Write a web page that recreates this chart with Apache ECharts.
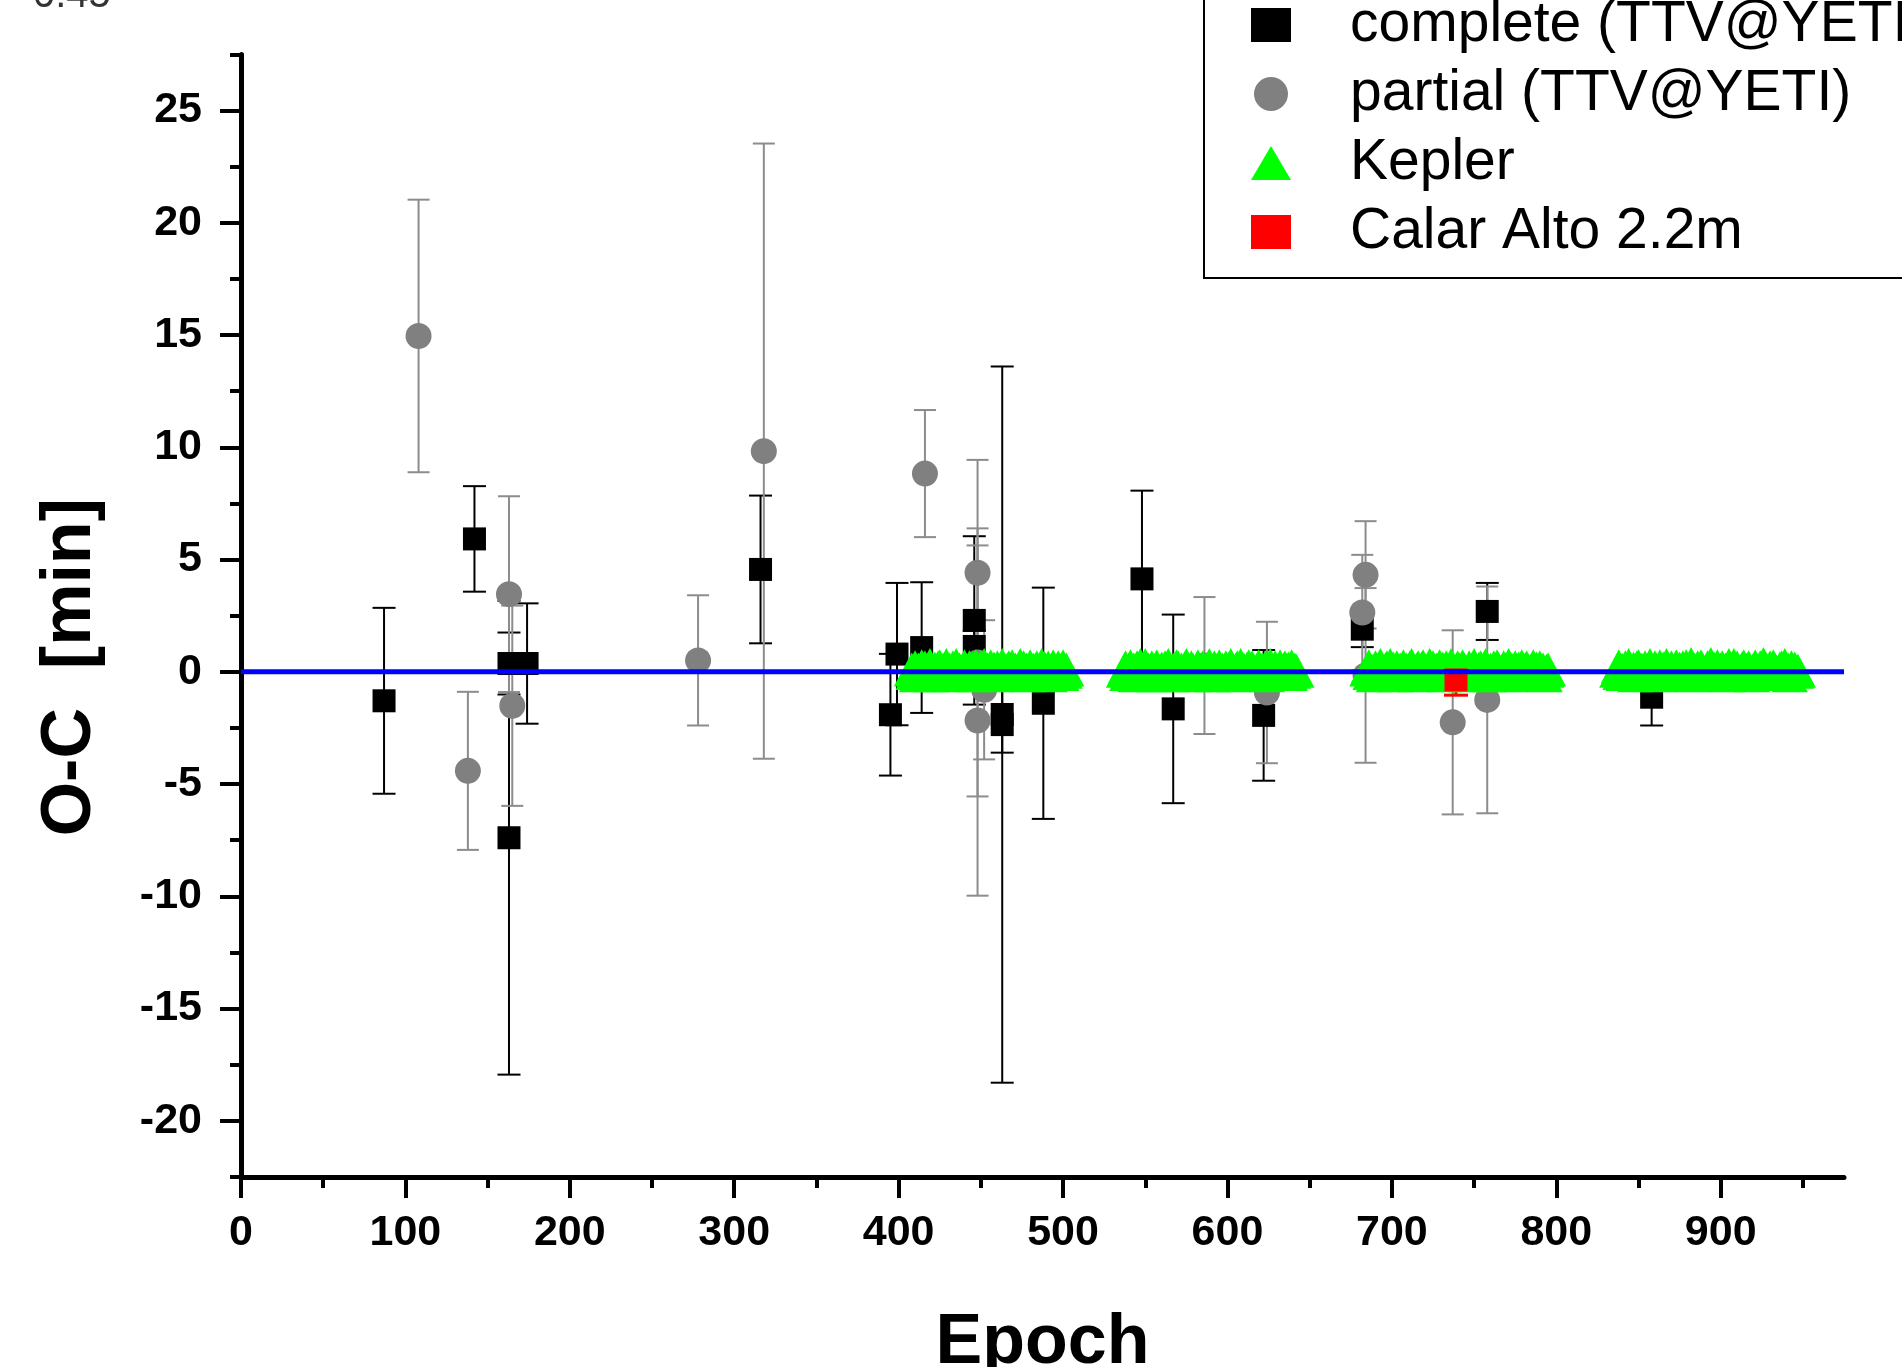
<!DOCTYPE html>
<html>
<head>
<meta charset="utf-8">
<title>O-C</title>
<script src="https://cdn.jsdelivr.net/npm/echarts@6/dist/echarts.min.js"></script>
<style>
  html, body { margin: 0; padding: 0; background: #fff; }
  #main { width: 1902px; height: 1367px; }
</style>
</head>
<body>
<div id="main"></div>
<script>
// complete transits (TTV@YETI)
var completeEpoch = [87, 142, 163, 163, 174, 316, 395, 399, 414, 446, 446, 463, 463, 488, 548, 567, 622, 682, 758, 858];
var completeOC = [-1.29, 5.92, 0.37, -7.39, 0.37, 4.56, -1.91, 0.79, 1.08, 2.29, 1.13, -1.9, -2.35, -1.4, 4.14, -1.65, -1.94, 1.9, 2.69, -1.13];
var completeErr = [4.14, 2.35, 1.38, 10.55, 2.68, 3.29, 2.71, 3.17, 2.91, 3.75, 0.7, 1.7, 15.95, 5.15, 3.93, 4.2, 2.91, 0.8, 1.27, 1.26];

// partial transits (TTV@YETI)
var partialEpoch = [108, 138, 163, 165, 278, 318, 416, 448, 448, 448, 452, 586, 624, 684, 682, 684, 737, 758];
var partialOC = [14.96, -4.41, 3.46, -1.51, 0.51, 9.83, 8.83, 4.41, 0.42, -2.17, -0.8, 0.28, -0.92, 4.32, 2.64, -0.16, -2.25, -1.25];
var partialErr = [6.07, 3.52, 4.36, 4.46, 2.9, 13.7, 2.83, 5.03, 5.97, 7.8, 3.1, 3.05, 3.15, 2.39, 2.57, 3.89, 4.1, 5.05];

// Calar Alto 2.2m
var caEpoch = [739];
var caOC = [-0.36];
var caErr = [0.68];

// Kepler: consecutive epochs, one block per observing run
var keplerStart = [408, 537, 685, 837];
var keplerOC = [
  [0.1,-0.05,0.2,-0.15,0.1,0.05,0.25,-0.1,0.2,0,0.1,0.3,-0.15,0.05,0.15,-0.05,0.2,0.25,-0.1,0.1,
   0.05,0.3,-0.05,0.1,-0.15,0.2,0.05,0.3,0,0.1,0.05,-0.1,0.25,0.1,-0.05,0.2,0.05,0.15,-0.15,0.25,
   0,0.1,0.2,0.05,0.3,-0.1,0.1,-0.05,0.25,0.05,0.15,-0.15,0.2,0,0.1,0.3,0.05,-0.1,0.1,0.2,
   -0.05,0.25,0.05,0.1,-0.1,0.15,0.3,0,0.2,0.05,0.1,-0.15,0.25,0,0.1,0.05,0.2,-0.1,0.1,0.3,
   0,0.15,0.05,0.2,-0.15,0.1,0.25,-0.05,0.05,0.2,0.1,-0.1,0.25,0,0.1],
  [0.05,0.2,-0.1,0.1,0.25,-0.05,0.1,-0.15,0.2,0.05,0.3,0.1,-0.1,0.3,0,0.1,0.05,0.2,-0.15,0.1,
   0.25,-0.05,0.05,0.15,-0.1,0.2,0.1,0.3,0,-0.15,0.1,0.05,0.25,0.2,-0.05,0.1,-0.1,0.15,0.3,0.05,
   0,0.2,0.1,-0.15,0.05,0.25,-0.05,0.1,0.2,-0.1,0.1,0,0.3,0.05,-0.15,0.2,0.1,-0.05,0.25,0.05,
   0.1,-0.1,0.2,0,0.15,0.3,0.05,-0.15,0.1,0.2,-0.05,0.3,0.05,0.1,-0.1,0.15,0.25,0,0.2,0.05,
   -0.1,0.1,0.25,-0.05,0.1,0.05,0.2,-0.15,0.1,0.3,0,0.05,0.2,0.1,-0.1,0.25,-0.05,0.1,0.2,0.05,
   0.15,-0.1,0.25,0,0.1,0.05],
  [0.1,0.25,-0.05,0.05,-0.15,0.2,0.1,0,0.3,0.05,-0.1,0.1,0.2,-0.05,0.3,0.05,0.15,-0.15,0.2,0,
   0.1,0.05,0.25,-0.1,0.1,-0.05,0.2,0.3,0.05,-0.15,0.1,0.2,0,0.15,0.25,-0.1,0.05,0.1,0.3,-0.05,
   0.2,-0.1,0.1,0.05,0.25,0,0.15,-0.15,0.2,0.05,0.1,0.3,-0.05,0.05,-0.1,0.2,0.1,0,0.25,0.1,
   -0.15,0.05,0.2,-0.05,0.1,0.3,0.05,-0.1,0.15,0.2,0,0.1,0.3,0.05,-0.15,0.1,-0.05,0.2,0.05,0.25,
   0.1,-0.1,0,0.2,0.1,0.05,0.3,-0.15,0.1,-0.05,0.2,0.05,0.15,-0.1,0.25,0,0.1,0.2,0.05,-0.05,
   0.1,0.25,-0.1,0.15,0.05,0.2,-0.05,0.1,-0.15,0.05,0.1],
  [0.05,0.25,-0.05,0.1,-0.1,0.2,0.1,0.3,0,0.05,0.15,-0.15,0.2,0.25,-0.05,0.1,0.05,0.2,-0.1,0.1,
   0.3,0.05,-0.05,0.2,0.1,-0.15,0.25,0.05,0.15,0,0.3,0.1,-0.1,0.2,0.05,0.1,0.25,-0.05,0.15,-0.1,
   0.2,0.05,0.25,0,0.1,0.35,-0.15,0.1,0.05,0.2,-0.05,0.25,0.1,-0.1,0.05,0.2,0.1,0.35,0,0.15,
   -0.1,0.25,0.05,0.1,0.2,-0.05,0.1,-0.15,0.3,0.05,0.1,0.3,0,0.2,0.05,-0.1,0.15,0.25,-0.05,0.1,
   0.2,0.05,-0.15,0.1,0.25,0,0.05,0.2,0.1,0.35,-0.1,0.1,-0.05,0.2,0.05,0.25,0.1,0,-0.1,0.15,
   0.2,0.05,0.3,-0.05,0.1,-0.15,0.2,0.05,0.15,0,0.05]
];

// zero line (linear ephemeris)
var fitEpoch = [0, 975];
var fitOC = [0, 0];

// axis ticks
var xMajor = [0, 100, 200, 300, 400, 500, 600, 700, 800, 900];
var xMinor = [50, 150, 250, 350, 450, 550, 650, 750, 850, 950];
var yMajor = [-20, -15, -10, -5, 0, 5, 10, 15, 20, 25];
var yMinor = [-22.5, -17.5, -12.5, -7.5, -2.5, 2.5, 7.5, 12.5, 17.5, 22.5, 27.5];

var FONT = "'Liberation Sans', Arial, sans-serif";

function points(ep, oc) {
  return ep.map(function (e, i) { return [e, oc[i]]; });
}
function bars(ep, oc, err) {
  return ep.map(function (e, i) { return [e, oc[i] - err[i], oc[i] + err[i]]; });
}
var keplerData = [];
keplerOC.forEach(function (block, b) {
  block.forEach(function (v, i) { keplerData.push([keplerStart[b] + i, v]); });
});

function errorBar(color, capHalf, width) {
  return function (params, api) {
    var x = api.value(0);
    var top = api.coord([x, api.value(2)]);
    var bot = api.coord([x, api.value(1)]);
    var st = { stroke: color, lineWidth: width, fill: null };
    return {
      type: 'group',
      children: [
        { type: 'line', shape: { x1: top[0] - capHalf, y1: top[1], x2: top[0] + capHalf, y2: top[1] }, style: st },
        { type: 'line', shape: { x1: top[0], y1: top[1], x2: bot[0], y2: bot[1] }, style: st },
        { type: 'line', shape: { x1: bot[0] - capHalf, y1: bot[1], x2: bot[0] + capHalf, y2: bot[1] }, style: st }
      ]
    };
  };
}

var chart = echarts.init(document.getElementById('main'));

chart.setOption({
  backgroundColor: '#fff',
  animation: false,
  grid: { left: 241, right: 58, top: 54.4, bottom: 190, outerBoundsMode: 'none', containLabel: false },
  legend: {
    data: [
      { name: 'complete (TTV@YETI)', icon: 'rect' },
      { name: 'partial (TTV@YETI)', icon: 'circle' },
      { name: 'Kepler', icon: 'path://M0,34L20,0L40,34Z' },
      { name: 'Calar Alto 2.2m', icon: 'rect' }
    ],
    orient: 'vertical',
    left: 1204,
    top: -21,
    itemWidth: 40,
    itemHeight: 34,
    itemGap: 9,
    padding: [16, 40, 16, 47],
    borderColor: '#000',
    borderWidth: 2,
    selectedMode: false,
    textStyle: { fontFamily: FONT, fontSize: 57, color: '#000', lineHeight: 60, padding: [0, 0, 0, 54] }
  },
  xAxis: [{
    type: 'value', min: 0, max: 975, position: 'bottom',
    name: 'Epoch', nameLocation: 'middle', nameGap: 132,
    nameTextStyle: { fontFamily: FONT, fontSize: 70, fontWeight: 'bold', color: '#000' },
    splitLine: { show: false },
    axisLine: { onZero: false, lineStyle: { color: '#000', width: 5 } },
    axisTick: { customValues: xMajor, length: 21, lineStyle: { color: '#000', width: 4 } },
    axisLabel: { customValues: xMajor, margin: 35, fontFamily: FONT, fontSize: 43, fontWeight: 'bold', color: '#000' }
  }, {
    type: 'value', min: 0, max: 975, position: 'bottom',
    splitLine: { show: false },
    axisLine: { show: false, onZero: false },
    axisTick: { customValues: xMinor, length: 11, lineStyle: { color: '#000', width: 4 } },
    axisLabel: { show: false }
  }],
  yAxis: [{
    type: 'value', min: -22.5, max: 27.5, position: 'left',
    name: 'O-C  [min]', nameLocation: 'middle', nameGap: 135,
    nameTextStyle: { fontFamily: FONT, fontSize: 70, fontWeight: 'bold', color: '#000', padding: [0, 103, 0, 0] },
    splitLine: { show: false },
    axisLine: { onZero: false, lineStyle: { color: '#000', width: 5 } },
    axisTick: { customValues: yMajor, length: 21, lineStyle: { color: '#000', width: 4 } },
    axisLabel: { customValues: yMajor, margin: 39, fontFamily: FONT, fontSize: 43, fontWeight: 'bold', color: '#000' }
  }, {
    type: 'value', min: -22.5, max: 27.5, position: 'left',
    splitLine: { show: false },
    axisLine: { show: false, onZero: false },
    axisTick: { customValues: yMinor, length: 11, lineStyle: { color: '#000', width: 4 } },
    axisLabel: { show: false }
  }],
  graphic: [{
    type: 'text', left: 33, top: -24,
    style: { text: '0.45', font: '40px ' + FONT, fill: '#333' }
  }],
  series: [
    {
      name: 'complete err', type: 'custom', renderItem: errorBar('#000', 11.5, 2),
      data: bars(completeEpoch, completeOC, completeErr), encode: { x: 0, y: [1, 2] }, silent: true
    },
    {
      name: 'complete (TTV@YETI)', type: 'scatter', symbol: 'rect', symbolSize: 23,
      itemStyle: { color: '#000', opacity: 1 }, data: points(completeEpoch, completeOC)
    },
    {
      name: 'partial err', type: 'custom', renderItem: errorBar('#8c8c8c', 11, 2),
      data: bars(partialEpoch, partialOC, partialErr), encode: { x: 0, y: [1, 2] }, silent: true
    },
    {
      name: 'partial (TTV@YETI)', type: 'scatter', symbol: 'circle', symbolSize: 26,
      itemStyle: { color: '#808080', opacity: 1 }, data: points(partialEpoch, partialOC)
    },
    {
      name: 'Kepler', type: 'scatter', symbol: 'triangle', symbolSize: [36, 34],
      itemStyle: { color: '#00ff00', opacity: 1 }, data: keplerData
    },
    {
      name: 'fit', type: 'line', data: points(fitEpoch, fitOC), showSymbol: false,
      lineStyle: { color: '#0000ff', width: 5 }, silent: true
    },
    {
      name: 'Calar Alto err', type: 'custom', renderItem: errorBar('#ff0000', 12, 3),
      data: bars(caEpoch, caOC, caErr), encode: { x: 0, y: [1, 2] }, silent: true
    },
    {
      name: 'Calar Alto 2.2m', type: 'scatter', symbol: 'rect', symbolSize: 23,
      itemStyle: { color: '#ff0000', opacity: 1 }, data: points(caEpoch, caOC)
    }
  ]
});
</script>
</body>
</html>
